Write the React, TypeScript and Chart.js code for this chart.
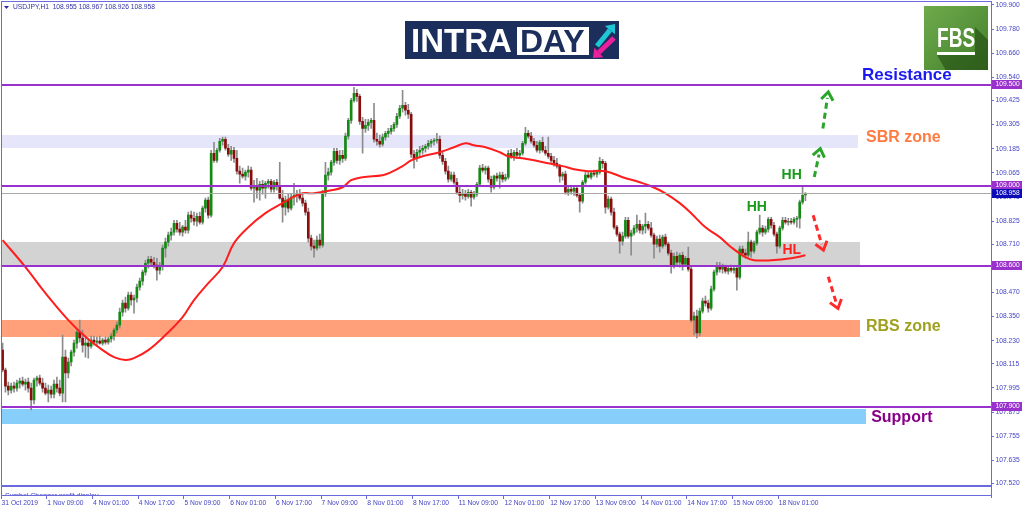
import React, { useEffect, useRef } from 'react';
import { Chart, registerables } from 'chart.js';

Chart.register(...registerables);

// ---------- DATA (USDJPY H1) ----------
const opens = [
  108.183,108.084,108.004,107.984,108.004,107.994,108.019,108.029,108.014,108.024,
  107.994,107.935,108.034,108.044,108.019,107.994,107.969,107.984,107.964,108.014,
  107.994,107.969,108.148,108.069,108.124,108.173,108.218,108.273,108.243,108.208,
  108.218,108.203,108.233,108.223,108.228,108.218,108.233,108.223,108.238,108.253,
  108.283,108.307,108.372,108.417,108.392,108.457,108.432,108.442,108.496,108.526,
  108.571,108.615,108.635,108.620,108.606,108.581,108.601,108.690,108.720,108.755,
  108.770,108.814,108.785,108.770,108.795,108.780,108.854,108.839,108.824,108.849,
  108.819,108.889,108.929,108.854,109.162,109.127,109.177,109.222,109.232,109.187,
  109.157,109.177,109.137,109.073,109.058,109.048,109.068,109.078,108.988,109.003,
  108.978,109.008,108.988,109.013,109.023,108.983,109.018,109.003,108.939,108.894,
  108.929,108.889,108.944,108.953,108.963,108.939,108.914,108.869,108.740,108.700,
  108.690,108.730,108.705,108.963,109.053,109.068,109.117,109.172,109.127,109.152,
  109.137,109.247,109.326,109.425,109.460,109.445,109.321,109.286,109.301,109.316,
  109.326,109.232,109.222,109.207,109.242,109.261,109.271,109.286,109.306,109.346,
  109.386,109.401,109.376,109.356,109.157,109.137,109.167,109.177,109.187,109.197,
  109.212,109.222,109.227,109.232,109.152,109.122,109.073,109.033,109.053,109.018,
  108.968,108.953,108.963,108.948,108.968,108.944,108.958,109.008,109.088,109.078,
  109.088,109.033,108.993,109.048,109.038,109.053,109.033,109.043,109.162,109.147,
  109.167,109.152,109.162,109.212,109.261,109.247,109.222,109.202,109.177,109.217,
  109.177,109.162,109.147,109.127,109.112,109.098,109.048,109.058,108.968,108.983,
  108.973,108.988,108.953,108.924,109.018,109.053,109.043,109.063,109.058,109.068,
  109.122,109.112,108.894,108.934,108.869,108.795,108.760,108.725,108.750,108.829,
  108.750,108.765,108.790,108.809,108.780,108.800,108.809,108.790,108.755,108.710,
  108.735,108.700,108.745,108.710,108.665,108.601,108.650,108.620,108.655,108.611,
  108.640,108.586,108.332,108.352,108.268,108.377,108.427,108.417,108.392,108.486,
  108.571,108.601,108.586,108.601,108.576,108.590,108.581,108.590,108.546,108.685,
  108.665,108.655,108.720,108.675,108.715,108.770,108.790,108.770,108.785,108.834,
  108.804,108.760,108.700,108.790,108.829,108.819,108.824,108.819,108.834,108.839,
  108.919,108.955,
];
const highs = [
  108.218,108.094,108.024,108.019,108.024,108.034,108.044,108.049,108.039,108.044,
  108.019,108.044,108.054,108.059,108.044,108.019,108.009,108.004,108.034,108.049,
  108.034,108.258,108.183,108.143,108.183,108.233,108.292,108.332,108.283,108.253,
  108.243,108.253,108.253,108.248,108.253,108.243,108.248,108.248,108.268,108.292,
  108.322,108.392,108.432,108.447,108.472,108.472,108.457,108.511,108.541,108.581,
  108.630,108.650,108.650,108.645,108.640,108.620,108.705,108.740,108.770,108.790,
  108.829,108.829,108.819,108.804,108.829,108.869,108.874,108.869,108.864,108.869,
  108.899,108.939,108.944,109.177,109.217,109.187,109.237,109.242,109.242,109.207,
  109.197,109.192,109.177,109.098,109.088,109.078,109.098,109.093,109.028,109.038,
  109.023,109.028,109.023,109.033,109.033,109.028,109.033,109.117,108.978,108.949,
  108.958,108.963,109.013,108.978,108.983,108.958,108.929,108.889,108.755,108.730,
  108.750,108.760,108.978,109.117,109.088,109.127,109.187,109.187,109.177,109.177,
  109.262,109.336,109.435,109.490,109.480,109.455,109.341,109.331,109.331,109.336,
  109.411,109.262,109.252,109.257,109.271,109.286,109.301,109.316,109.361,109.401,
  109.475,109.416,109.406,109.366,109.177,109.182,109.197,109.202,109.207,109.227,
  109.232,109.237,109.261,109.247,109.167,109.137,109.098,109.068,109.068,109.038,
  108.993,108.983,108.978,108.983,108.978,108.973,109.018,109.102,109.107,109.098,
  109.098,109.048,109.053,109.063,109.068,109.068,109.058,109.177,109.182,109.177,
  109.187,109.177,109.222,109.291,109.276,109.266,109.237,109.222,109.227,109.242,
  109.197,109.242,109.162,109.147,109.137,109.107,109.068,109.073,108.998,108.998,
  108.998,108.998,108.963,109.028,109.068,109.068,109.073,109.078,109.078,109.142,
  109.132,109.122,108.949,108.944,108.889,108.804,108.770,108.770,108.844,108.844,
  108.780,108.804,108.854,108.829,108.809,108.864,108.824,108.819,108.765,108.750,
  108.755,108.755,108.760,108.720,108.680,108.665,108.670,108.665,108.670,108.650,
  108.695,108.601,108.372,108.382,108.392,108.442,108.452,108.432,108.501,108.581,
  108.620,108.620,108.611,108.606,108.601,108.606,108.601,108.601,108.700,108.700,
  108.685,108.770,108.730,108.725,108.780,108.854,108.804,108.800,108.844,108.844,
  108.819,108.770,108.800,108.844,108.844,108.839,108.839,108.844,108.849,108.929,
  108.998,108.967,
];
const lows = [
  108.074,107.974,107.960,107.969,107.974,107.979,107.994,108.004,107.984,107.974,
  107.885,107.915,108.004,108.009,107.974,107.960,107.925,107.945,107.945,107.974,
  107.955,107.925,107.925,108.044,108.104,108.153,108.193,108.223,108.173,108.148,
  108.143,108.193,108.208,108.203,108.213,108.208,108.213,108.213,108.223,108.233,
  108.268,108.292,108.352,108.372,108.382,108.407,108.367,108.422,108.481,108.506,
  108.556,108.590,108.606,108.590,108.531,108.561,108.581,108.645,108.700,108.730,
  108.755,108.770,108.755,108.750,108.765,108.765,108.819,108.804,108.800,108.809,
  108.809,108.869,108.839,108.844,109.117,109.117,109.167,109.202,109.177,109.147,
  109.127,109.117,109.058,109.013,109.038,109.028,109.043,108.978,108.919,108.939,
  108.929,108.958,108.939,108.988,108.968,108.968,108.978,108.934,108.819,108.854,
  108.869,108.879,108.904,108.919,108.929,108.899,108.854,108.720,108.680,108.645,
  108.680,108.690,108.695,108.948,109.028,109.053,109.102,109.112,109.107,109.117,
  109.127,109.232,109.311,109.416,109.420,109.306,109.162,109.266,109.276,109.286,
  109.217,109.202,109.192,109.197,109.227,109.242,109.257,109.271,109.291,109.336,
  109.366,109.351,109.336,109.142,109.088,109.122,109.147,109.157,109.167,109.182,
  109.192,109.202,109.212,109.137,109.107,109.058,109.018,109.023,109.008,108.958,
  108.919,108.934,108.929,108.939,108.899,108.934,108.948,108.998,109.068,109.058,
  109.018,108.968,108.983,109.023,108.988,109.018,109.023,109.033,109.137,109.127,
  109.137,109.137,109.152,109.202,109.237,109.212,109.192,109.167,109.162,109.167,
  109.152,109.137,109.117,109.098,109.088,109.018,109.028,108.958,108.953,108.958,
  108.953,108.944,108.869,108.914,109.008,109.038,109.033,109.048,109.043,109.058,
  109.088,108.864,108.884,108.854,108.785,108.750,108.665,108.705,108.740,108.740,
  108.655,108.755,108.770,108.765,108.760,108.765,108.780,108.745,108.640,108.695,
  108.670,108.690,108.700,108.655,108.566,108.590,108.606,108.596,108.581,108.601,
  108.576,108.322,108.258,108.243,108.253,108.367,108.402,108.372,108.382,108.476,
  108.556,108.571,108.566,108.566,108.561,108.571,108.566,108.481,108.536,108.645,
  108.640,108.645,108.645,108.665,108.705,108.760,108.750,108.760,108.770,108.790,
  108.750,108.665,108.690,108.780,108.809,108.804,108.809,108.809,108.795,108.790,
  108.909,108.926,
];
const closes = [
  108.084,108.004,107.984,108.004,107.994,108.019,108.029,108.014,108.024,107.994,
  107.935,108.034,108.044,108.019,107.994,107.969,107.984,107.964,108.014,107.994,
  107.969,108.148,108.069,108.124,108.173,108.218,108.273,108.243,108.208,108.218,
  108.203,108.233,108.223,108.228,108.218,108.233,108.223,108.238,108.253,108.283,
  108.307,108.372,108.417,108.392,108.457,108.432,108.442,108.496,108.526,108.571,
  108.615,108.635,108.620,108.606,108.581,108.601,108.690,108.720,108.755,108.770,
  108.814,108.785,108.770,108.795,108.780,108.854,108.839,108.824,108.849,108.819,
  108.889,108.929,108.854,109.162,109.127,109.177,109.222,109.232,109.187,109.157,
  109.177,109.137,109.073,109.058,109.048,109.068,109.078,108.988,109.003,108.978,
  109.008,108.988,109.013,109.023,108.983,109.018,109.003,108.939,108.894,108.929,
  108.889,108.944,108.953,108.963,108.939,108.914,108.869,108.740,108.700,108.690,
  108.730,108.705,108.963,109.053,109.068,109.117,109.172,109.127,109.152,109.137,
  109.247,109.326,109.425,109.460,109.445,109.321,109.286,109.301,109.316,109.326,
  109.232,109.222,109.207,109.242,109.261,109.271,109.286,109.306,109.346,109.386,
  109.401,109.376,109.356,109.157,109.137,109.167,109.177,109.187,109.197,109.212,
  109.222,109.227,109.232,109.152,109.122,109.073,109.033,109.053,109.018,108.968,
  108.953,108.963,108.948,108.968,108.944,108.958,109.008,109.088,109.078,109.088,
  109.033,108.993,109.048,109.038,109.053,109.033,109.043,109.162,109.147,109.167,
  109.152,109.162,109.212,109.261,109.247,109.222,109.202,109.177,109.217,109.177,
  109.162,109.147,109.127,109.112,109.098,109.048,109.058,108.968,108.983,108.973,
  108.988,108.953,108.924,109.018,109.053,109.043,109.063,109.058,109.068,109.122,
  109.112,108.894,108.934,108.869,108.795,108.760,108.725,108.750,108.829,108.750,
  108.765,108.790,108.809,108.780,108.800,108.809,108.790,108.755,108.710,108.735,
  108.700,108.745,108.710,108.665,108.601,108.650,108.620,108.655,108.611,108.640,
  108.586,108.332,108.352,108.268,108.377,108.427,108.417,108.392,108.486,108.571,
  108.601,108.586,108.601,108.576,108.590,108.581,108.590,108.546,108.685,108.665,
  108.655,108.720,108.675,108.715,108.770,108.790,108.770,108.785,108.834,108.804,
  108.760,108.700,108.790,108.829,108.819,108.824,108.819,108.834,108.839,108.919,
  108.953,108.958,
];

// Moving average, read at selected bars
const maBars = [0,8,15,23,29,35,39,43,46,51,57,63,67,72,77,81,86,92,98,101,105,109,115,119,122,126,133,136,140,143,147,153,158,162,165,169,174,177,182,186,191,196,200,205,211,217,223,227,232,237,241,246,251,255,260,263,269,276,281];
const maValues = [108.730,108.596,108.466,108.332,108.249,108.183,108.148,108.134,108.143,108.183,108.258,108.347,108.432,108.516,108.596,108.715,108.794,108.864,108.914,108.939,108.963,108.963,108.978,108.993,109.028,109.043,109.053,109.068,109.098,109.127,109.147,109.167,109.192,109.212,109.202,109.192,109.167,109.147,109.137,109.127,109.112,109.098,109.083,109.073,109.073,109.043,109.018,108.998,108.963,108.914,108.864,108.794,108.745,108.695,108.645,108.630,108.630,108.640,108.655];

const xTickBars = [0,16,32,48,64,80,96,112,128,144,160,176,192,208,224,240,256,272];
const xTickLabels = ['31 Oct 2019','1 Nov 09:00','4 Nov 01:00','4 Nov 17:00','5 Nov 09:00','6 Nov 01:00','6 Nov 17:00','7 Nov 09:00','8 Nov 01:00','8 Nov 17:00','11 Nov 09:00','12 Nov 01:00','12 Nov 17:00','13 Nov 09:00','14 Nov 01:00','14 Nov 17:00','15 Nov 09:00','18 Nov 01:00'];
const yTickValues = [109.900,109.780,109.660,109.540,109.425,109.305,109.185,109.065,108.945,108.825,108.710,108.590,108.470,108.350,108.230,108.115,107.995,107.875,107.755,107.635,107.520];

const levelPrices = [109.5, 109.0, 108.6, 107.9];
const currentPrice = 108.958;
const headerText = 'USDJPY,H1  108.955 108.967 108.926 108.958';

const zoneTops = [109.255, 108.720, 108.335, 107.888];
const zoneBottoms = [109.190, 108.600, 108.250, 107.815];
const zoneEndBars = [299.4, 300.1, 300.1, 302.2];

// ---------- STYLE ----------
const FONT = '"Liberation Sans", Arial, sans-serif';
const FRAME = '#6a6adc';
const AXIS_TEXT = '#4444c4';
const BULL = '#138a13';
const BEAR = '#8a0d0d';
const WICK = '#8c8c8c';
const PURPLE = '#9932cc';
const ZONE_COLORS = ['#e6e6fa', '#d3d3d3', '#ffa07a', '#87cefa'];
const X_MIN = -0.385;
const X_MAX = 345.95;
const Y_MIN = 107.507;
const Y_MAX = 109.917;

function dashedArrow(ctx: CanvasRenderingContext2D, x0: number, y0: number, x1: number, y1: number, color: string) {
  const dx = x1 - x0, dy = y1 - y0, len = Math.hypot(dx, dy);
  const ux = dx / len, uy = dy / len, nx = -uy, ny = ux;
  ctx.save();
  ctx.strokeStyle = color;
  ctx.lineWidth = 3;
  ctx.setLineDash([6, 4]);
  ctx.beginPath();
  ctx.moveTo(x0, y0);
  ctx.lineTo(x1 - ux * 6, y1 - uy * 6);
  ctx.stroke();
  ctx.setLineDash([]);
  ctx.lineJoin = 'miter';
  const bx = x1 - ux * 8, by = y1 - uy * 8;
  ctx.beginPath();
  ctx.moveTo(bx + nx * 6, by + ny * 6);
  ctx.lineTo(x1, y1);
  ctx.lineTo(bx - nx * 6, by - ny * 6);
  ctx.stroke();
  ctx.restore();
}

function solidArrow(ctx: CanvasRenderingContext2D, x0: number, y0: number, x1: number, y1: number, color: string) {
  const dx = x1 - x0, dy = y1 - y0, len = Math.hypot(dx, dy);
  const ux = dx / len, uy = dy / len, nx = -uy, ny = ux;
  const bx = x1 - ux * 8, by = y1 - uy * 8;
  ctx.strokeStyle = color;
  ctx.lineWidth = 5;
  ctx.beginPath();
  ctx.moveTo(x0, y0);
  ctx.lineTo(bx, by);
  ctx.stroke();
  ctx.fillStyle = color;
  ctx.beginPath();
  ctx.moveTo(x1, y1);
  ctx.lineTo(bx + nx * 6.5, by + ny * 6.5);
  ctx.lineTo(bx - nx * 6.5, by - ny * 6.5);
  ctx.closePath();
  ctx.fill();
}

function drawIntraday(ctx: CanvasRenderingContext2D) {
  ctx.save();
  ctx.fillStyle = '#1c2f5c';
  ctx.fillRect(405, 21, 214, 38);
  ctx.fillStyle = '#ffffff';
  ctx.font = `bold 33px ${FONT}`;
  ctx.textAlign = 'left';
  ctx.textBaseline = 'alphabetic';
  ctx.fillText('INTRA', 411, 52);
  ctx.fillRect(517, 27, 72, 28);
  ctx.fillStyle = '#1c2f5c';
  ctx.font = `bold 32px ${FONT}`;
  ctx.fillText('DAY', 520, 52);
  solidArrow(ctx, 597, 46, 615, 24, '#1ec6d6');
  solidArrow(ctx, 614, 38, 593, 58, '#ec1f9c');
  ctx.restore();
}

function drawFbs(ctx: CanvasRenderingContext2D) {
  ctx.save();
  const g = ctx.createLinearGradient(924, 6, 988, 70);
  g.addColorStop(0, '#6fab4c');
  g.addColorStop(1, '#437f2b');
  ctx.fillStyle = g;
  ctx.fillRect(924, 6, 64, 64);
  ctx.beginPath();
  ctx.rect(924, 6, 64, 64);
  ctx.clip();
  ctx.fillStyle = 'rgba(30,70,15,0.55)';
  ctx.beginPath();
  ctx.moveTo(975, 27);
  ctx.lineTo(1010, 62);
  ctx.lineTo(1010, 95);
  ctx.lineTo(960, 95);
  ctx.lineTo(937, 55);
  ctx.lineTo(975, 55);
  ctx.closePath();
  ctx.fill();
  ctx.fillStyle = '#ffffff';
  ctx.translate(937, 47);
  ctx.scale(0.68, 1);
  ctx.font = `bold 28px ${FONT}`;
  ctx.textAlign = 'left';
  ctx.textBaseline = 'alphabetic';
  ctx.fillText('FBS', 0, 0);
  ctx.setTransform(1, 0, 0, 1, 0, 0);
  ctx.fillRect(937, 52, 38, 3);
  ctx.restore();
}

const overlayPlugin = {
  id: 'overlay',
  beforeDatasetsDraw(chart: any) {
    const { ctx, chartArea: ca, scales } = chart;
    const x = scales.x, y = scales.y;
    ctx.save();
    ctx.beginPath();
    ctx.rect(ca.left, ca.top, ca.right - ca.left, ca.bottom - ca.top);
    ctx.clip();
    for (let i = 0; i < zoneTops.length; i++) {
      const y0 = y.getPixelForValue(zoneTops[i]);
      const y1 = y.getPixelForValue(zoneBottoms[i]);
      const x1 = x.getPixelForValue(zoneEndBars[i]);
      ctx.fillStyle = ZONE_COLORS[i];
      ctx.fillRect(ca.left, Math.round(y0), x1 - ca.left, Math.round(y1) - Math.round(y0));
    }
    ctx.restore();
  },
  afterDatasetsDraw(chart: any) {
    const { ctx, chartArea: ca, scales } = chart;
    const y = scales.y;
    ctx.save();
    ctx.fillStyle = '#a8a8a8';
    ctx.fillRect(ca.left, Math.round(y.getPixelForValue(currentPrice)) - 1, ca.right - ca.left, 1);
    ctx.fillStyle = PURPLE;
    for (const p of levelPrices) {
      ctx.fillRect(ca.left, Math.round(y.getPixelForValue(p)) - 1, ca.right - ca.left, 2);
    }
    ctx.restore();
  },
  afterDraw(chart: any) {
    const { ctx, chartArea: ca, scales } = chart;
    const x = scales.x, y = scales.y;
    const px = (v: number) => x.getPixelForValue(v);
    const py = (v: number) => y.getPixelForValue(v);
    ctx.save();

    // frame and indicator sub-window
    ctx.fillStyle = '#ffffff';
    ctx.fillRect(2, 487, 989, 8);
    ctx.fillStyle = FRAME;
    ctx.fillRect(1, 1, 990, 1);
    ctx.fillRect(1, 1, 1, 495);
    ctx.fillRect(991, 1, 1, 497);
    ctx.fillRect(1, 485, 990, 2);
    ctx.fillRect(1, 495, 991, 1);
    ctx.save();
    ctx.beginPath();
    ctx.rect(2, 487, 980, 8);
    ctx.clip();
    ctx.fillStyle = AXIS_TEXT;
    ctx.font = `7px ${FONT}`;
    ctx.textAlign = 'left';
    ctx.textBaseline = 'alphabetic';
    ctx.fillText('Symbol Changer profit display', 5, 497.5);
    ctx.restore();
    for (const b of xTickBars) {
      ctx.fillStyle = FRAME;
      ctx.fillRect(Math.round(px(b)) - 2, 496, 1, 3);
    }

    // price label boxes on the axis
    const boxes: [number, string][] = levelPrices.map((p) => [p, PURPLE] as [number, string]);
    boxes.push([currentPrice, '#0b0bb8']);
    ctx.font = `6.7px ${FONT}`;
    ctx.textAlign = 'left';
    ctx.textBaseline = 'middle';
    for (const [p, c] of boxes) {
      const yy = Math.round(py(p));
      ctx.fillStyle = c;
      ctx.fillRect(992, yy - 5, 30, 9);
      ctx.fillStyle = '#ffffff';
      ctx.fillText(p.toFixed(3), 995.5, yy - 0.5);
    }

    // header
    ctx.fillStyle = '#2a2aa0';
    ctx.beginPath();
    ctx.moveTo(4, 6);
    ctx.lineTo(9, 6);
    ctx.lineTo(6.5, 9);
    ctx.closePath();
    ctx.fill();
    ctx.fillStyle = '#3030a8';
    ctx.font = `6.7px ${FONT}`;
    ctx.textBaseline = 'middle';
    ctx.fillText(headerText, 13, 7.5);

    // text annotations
    const notes: { t: string; b: number; p: number; s: number; c: string; a: CanvasTextAlign }[] = [
      { t: 'Resistance', b: 300.8, p: 109.550, s: 17, c: '#1a1af0', a: 'left' },
      { t: 'SBR zone', b: 302.2, p: 109.242, s: 16, c: '#ff7b42', a: 'left' },
      { t: 'RBS zone', b: 302.2, p: 108.298, s: 16, c: '#a0a020', a: 'left' },
      { t: 'Support', b: 304.0, p: 107.845, s: 16, c: '#880088', a: 'left' },
      { t: 'HH', b: 276.2, p: 109.053, s: 14, c: '#1a9a1a', a: 'center' },
      { t: 'HH', b: 264.0, p: 108.894, s: 14, c: '#1a9a1a', a: 'center' },
      { t: 'HL', b: 276.2, p: 108.678, s: 14, c: '#ff2020', a: 'center' },
    ];
    for (const n of notes) {
      ctx.font = `bold ${n.s}px ${FONT}`;
      ctx.fillStyle = n.c;
      ctx.textAlign = n.a;
      ctx.textBaseline = 'middle';
      ctx.fillText(n.t, px(n.b), py(n.p));
    }

    // dashed arrows
    const arrows: { f: [number, number]; to: [number, number]; c: string }[] = [
      { f: [284.1, 109.044], to: [286.2, 109.185], c: '#2aa52a' },
      { f: [287.1, 109.285], to: [289.0, 109.467], c: '#2aa52a' },
      { f: [283.7, 108.854], to: [287.3, 108.680], c: '#ff2b2b' },
      { f: [289.0, 108.548], to: [292.4, 108.390], c: '#ff2b2b' },
    ];
    for (const a of arrows) {
      dashedArrow(ctx, px(a.f[0]), py(a.f[1]), px(a.to[0]), py(a.to[1]), a.c);
    }

    drawIntraday(ctx);
    drawFbs(ctx);
    ctx.restore();
  },
};

export default function App() {
  const ref = useRef<HTMLCanvasElement>(null);
  useEffect(() => {
    const bodies = opens.map((o, i) => ({ x: i, y: [o, closes[i]] }));
    const bodyColors = opens.map((o, i) => (closes[i] >= o ? BULL : BEAR));
    const wicks = lows.map((l, i) => ({ x: i, y: [l, highs[i]] }));
    const ma = maBars.map((b, i) => ({ x: b, y: maValues[i] }));

    const chart = new Chart(ref.current as HTMLCanvasElement, {
      type: 'bar',
      data: {
        datasets: [
          {
            type: 'line',
            label: 'MA',
            data: ma,
            borderColor: '#ff1e1e',
            borderWidth: 2,
            pointRadius: 0,
            tension: 0.4,
            order: 0,
          } as any,
          {
            type: 'bar',
            label: 'Body',
            data: bodies,
            backgroundColor: bodyColors,
            borderWidth: 0,
            barThickness: 2,
            minBarLength: 1,
            grouped: false,
            order: 1,
          } as any,
          {
            type: 'bar',
            label: 'Wick',
            data: wicks,
            backgroundColor: WICK,
            borderWidth: 0,
            barThickness: 1,
            grouped: false,
            order: 2,
          } as any,
        ],
      },
      options: {
        responsive: false,
        animation: false,
        devicePixelRatio: 1,
        layout: { padding: { left: 1.5, top: 1.5, right: 0, bottom: 0 } },
        plugins: { legend: { display: false }, tooltip: { enabled: false } },
        scales: {
          x: {
            type: 'linear',
            min: X_MIN,
            max: X_MAX,
            offset: false,
            grid: { display: false, drawTicks: false },
            border: { display: false },
            ticks: {
              autoSkip: false,
              maxRotation: 0,
              align: 'start',
              labelOffset: -1,
              padding: 13,
              color: AXIS_TEXT,
              font: { family: FONT, size: 6.7 },
              callback: (v: any) => {
                const k = xTickBars.indexOf(Number(v));
                return k >= 0 ? xTickLabels[k] : '';
              },
            },
            afterBuildTicks: (s: any) => {
              s.ticks = xTickBars.map((v) => ({ value: v }));
            },
            afterFit: (s: any) => {
              s.height = 25;
              s.paddingLeft = 0;
              s.paddingRight = 0;
            },
          },
          y: {
            type: 'linear',
            position: 'right',
            min: Y_MIN,
            max: Y_MAX,
            grid: { display: true, drawOnChartArea: false, drawTicks: true, tickLength: 3, color: FRAME },
            border: { display: false },
            ticks: {
              autoSkip: false,
              padding: 1.5,
              color: AXIS_TEXT,
              font: { family: FONT, size: 6.7, lineHeight: 0.4 },
              callback: (v: any) => Number(v).toFixed(3),
            },
            afterBuildTicks: (s: any) => {
              s.ticks = yTickValues.map((v) => ({ value: v }));
            },
            afterFit: (s: any) => {
              s.width = 33;
              s.paddingTop = 0;
              s.paddingBottom = 0;
            },
          },
        },
      } as any,
      plugins: [overlayPlugin],
    });
    return () => chart.destroy();
  }, []);

  return (
    <div style={{ position: 'fixed', left: 0, top: 0, width: 1024, height: 511, background: '#ffffff' }}>
      <canvas ref={ref} width={1024} height={511} style={{ display: 'block', width: 1024, height: 511 }} />
    </div>
  );
}
